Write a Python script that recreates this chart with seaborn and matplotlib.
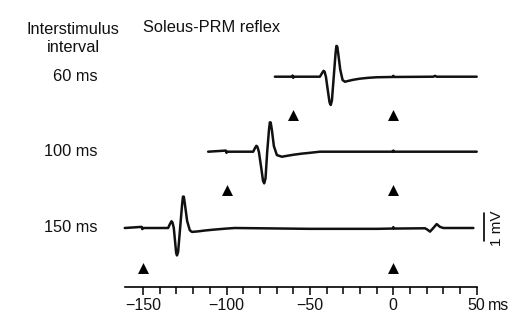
import numpy as np
import pandas as pd
import matplotlib
matplotlib.use("Agg")
import matplotlib.pyplot as plt
import seaborn as sns
from matplotlib.ticker import FixedLocator, FixedFormatter

sns.set_style("white")
plt.rcParams['font.family'] = ['Liberation Sans', 'DejaVu Sans']

# ---- data (time in ms, potential in mV relative to each trace baseline) ----
intervals = ["60 ms", "100 ms", "150 ms"]

t_60 = [-71, -61, -60.4, -60, -59.6, -44, -42.8, -41.8, -41.2, -40.4, -39, -38.2, -37.5, -36.8,
        -35.7, -34.6, -34.1, -33.6, -33.0, -31.8, -30.4, -29, -27, -24, -20, -15, -10,
        -0.4, 0, 0.4, 24, 25, 26, 50]
v_60 = [0, 0, 0.04, -0.04, 0, 0, 0.12, 0.21, 0.18, 0.0, -0.6, -0.92, -1.01, -0.85,
        0.0, 0.85, 1.1, 1.08, 0.82, 0.25, -0.12, -0.18, -0.15, -0.11, -0.07, -0.04, -0.02,
        -0.01, 0.03, -0.01, 0, 0.03, 0, 0]

t_100 = [-111, -100.4, -100, -99.6, -84, -83, -82.1, -81.5, -80.6, -79, -78.1, -77.4, -76.6,
         -75.6, -74.5, -74.0, -73.5, -72.8, -71.6, -69.8, -66.8, -64, -60, -55, -50, -44,
         -0.4, 0, 0.4, 50]
v_100 = [0, 0.04, -0.04, 0, 0, 0.12, 0.21, 0.18, 0.0, -0.65, -1.04, -1.13, -0.95,
         0.0, 0.8, 1.05, 1.04, 0.78, 0.2, -0.12, -0.18, -0.15, -0.11, -0.07, -0.04, 0,
         0, 0.04, 0, 0]

t_150 = [-161, -150.9, -150.5, -150.1, -135, -134, -133.0, -132.4, -131.6, -130.8, -130.2, -129.7,
         -129.0, -127.8, -126.6, -126.1, -125.6, -125.0, -123.6, -122, -120.7, -117, -113,
         -108, -100, -95, -50, -10, -0.4, 0, 0.4, 19, 20.5, 22, 24, 26, 28, 30, 48]
v_150 = [0, 0.04, -0.04, 0, 0, 0.13, 0.24, 0.2, 0.0, -0.5, -0.88, -0.98, -0.85,
         0.0, 0.85, 1.12, 1.12, 0.88, 0.25, -0.08, -0.14, -0.12, -0.09,
         -0.06, -0.02, 0, -0.03, -0.03, -0.02, 0.03, -0.02, -0.01, -0.06, -0.13, 0.0, 0.14, 0.04, 0, 0]

stim_times = [[-60, 0], [-100, 0], [-150, 0]]

major_ticks = [-150, -100, -50, 0, 50]
major_labels = ["\u2212150", "\u2212100", "\u221250", "0", "50"]
minor_ticks = [-140, -130, -120, -110, -90, -80, -70, -60, -40, -30, -20, -10,
               10, 20, 30, 40]

# ---- layout (pixel based) ----
W, H = 512, 320
px_per_ms = 1.668
x0_px = 393.3
px_per_mV = 28.0
base_px = [76.7, 151.7, 228.0]
marker_px = [115.0, 190.0, 268.0]
axis_px = 287.3
maj_len, lab_pad = 6.0, 1.5


def ypx_to_mv(y):
    return -(y - base_px[0]) / px_per_mV


def xpx_to_ms(x):
    return (x - x0_px) / px_per_ms


fig = plt.figure(figsize=(W / 100, H / 100), dpi=100)
ax = fig.add_axes([0, 0, 1, 1])
ax.set_xlim(xpx_to_ms(0), xpx_to_ms(W))
ax.set_ylim(ypx_to_mv(H), ypx_to_mv(0))

traces = [(t_60, v_60), (t_100, v_100), (t_150, v_150)]
frames = []
for i, (t, v) in enumerate(traces):
    off = ypx_to_mv(base_px[i])
    frames.append(pd.DataFrame({"t": t, "v": np.array(v) + off, "trace": intervals[i]}))
df = pd.concat(frames, ignore_index=True)
sns.lineplot(data=df, x="t", y="v", units="trace", estimator=None, sort=False,
             color="#111111", lw=1.8, ax=ax, legend=False)

mk_rows = []
for i, times in enumerate(stim_times):
    for tt in times:
        mk_rows.append({"t": tt, "y": ypx_to_mv(marker_px[i])})
mk = pd.DataFrame(mk_rows)
sns.scatterplot(data=mk, x="t", y="y", marker="^", s=62, color="black",
                edgecolor="black", linewidth=0, ax=ax, legend=False)

# x axis
for s in ["top", "right", "left"]:
    ax.spines[s].set_visible(False)
ax.spines["bottom"].set_position(("data", ypx_to_mv(axis_px)))
ax.spines["bottom"].set_bounds(-161, 50)
ax.spines["bottom"].set_linewidth(1.2)
ax.spines["bottom"].set_color("black")
ax.xaxis.set_major_locator(FixedLocator(major_ticks))
ax.xaxis.set_major_formatter(FixedFormatter(major_labels))
ax.xaxis.set_minor_locator(FixedLocator(minor_ticks))
ax.tick_params(axis="x", which="both", bottom=True, top=False)
ax.tick_params(axis="x", which="major", direction="out", length=maj_len, width=1.1,
               color="black", labelsize=11.5, pad=lab_pad, labelcolor="#111111")
ax.tick_params(axis="x", which="minor", direction="out", length=5, width=1.1,
               color="black")
ax.set_yticks([])
ax.set_xlabel("")
ax.set_ylabel("")
ms_top = axis_px + (maj_len + lab_pad) * 100 / 72
ax.text(xpx_to_ms(488), ypx_to_mv(ms_top), "ms", ha="left", va="top",
        fontsize=11.5, color="#111111")

# labels
fs = 11.8
ax.text(xpx_to_ms(73), ypx_to_mv(29), "Interstimulus", ha="center", va="center",
        fontsize=fs, color="#111111")
ax.text(xpx_to_ms(73), ypx_to_mv(47), "interval", ha="center", va="center",
        fontsize=fs, color="#111111")
ax.text(xpx_to_ms(143), ypx_to_mv(28), "Soleus-PRM reflex", ha="left", va="center",
        fontsize=fs, color="#111111")
for i, lab in enumerate(intervals):
    ax.text(xpx_to_ms(98), ypx_to_mv(base_px[i]), lab, ha="right", va="center",
            fontsize=fs, color="#111111")

# scale bar 1 mV
sb_x = xpx_to_ms(484)
sb_top = ypx_to_mv(213)
ax.plot([sb_x, sb_x], [sb_top, sb_top - 1.0], color="black", lw=1.2)
ax.text(xpx_to_ms(497), ypx_to_mv(228), "1 mV", rotation=90, ha="center",
        va="center", fontsize=11, color="#111111")

fig.savefig("out.png", dpi=100)
